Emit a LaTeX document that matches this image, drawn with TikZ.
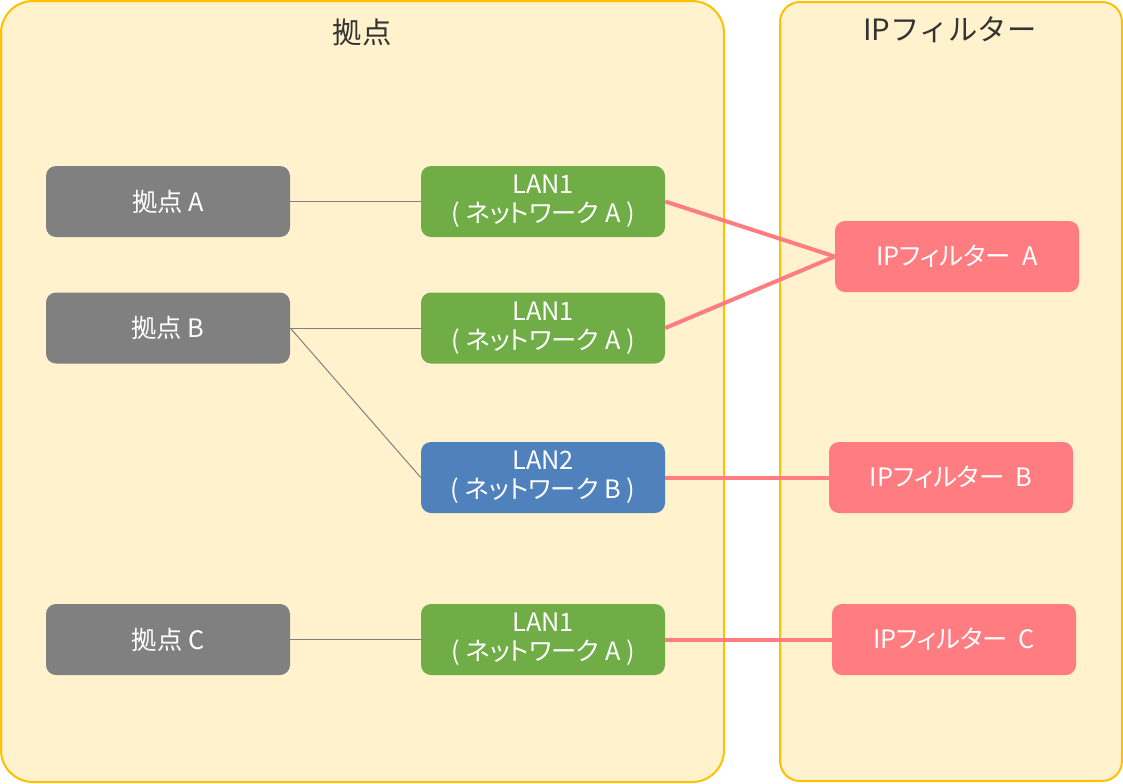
\documentclass[tikz,border=0pt]{standalone}
\usepackage{fontspec}
\newfontfamily\jp{Noto Sans CJK JP}
\newfontfamily\jpp[RawFeature=+palt]{Noto Sans CJK JP}
\definecolor{cyellow}{HTML}{FFC000}
\definecolor{cfill}{HTML}{FFF2CC}
\definecolor{cgray}{HTML}{808080}
\definecolor{cgreen}{HTML}{70AD47}
\definecolor{cblue}{HTML}{4F81BD}
\definecolor{cpink}{HTML}{FF7C80}
\definecolor{ctitle}{HTML}{333333}
\begin{document}
\begin{tikzpicture}[x=0.75pt,y=-0.75pt,
  container/.style={draw=cyellow, line width=1.5pt, fill=cfill},
  title/.style={text=ctitle, font=\jp\fontsize{22}{26}\selectfont, inner sep=0pt},
  box/.style={rounded corners=7.5pt, minimum width=183pt, minimum height=53.25pt, inner sep=0pt,
    text=white, align=center, font=\jpp\fontsize{19}{21.5}\selectfont},
  sitebox/.style={box, fill=cgray},
  lanA/.style={box, fill=cgreen},
  lanB/.style={box, fill=cblue},
  filterbox/.style={box, fill=cpink},
  thinlink/.style={draw=cgray, line width=0.75pt},
  pinklink/.style={draw=cpink, line width=3pt}
]
\useasboundingbox (0,0) rectangle (1123,783);
\fill[white] (0,0) rectangle (1123,783);
% containers
\draw[container, rounded corners=24pt] (1,1) rectangle (724,782);
\draw[container, rounded corners=15pt] (780,2) rectangle (1122,781);
\node[title] (t1) at (362,32) {拠点};
\node[title] (t2) at (950,30) {IPフィルター};
% site nodes
\node[sitebox] (siteA) at (168,201.5) {拠点 A};
\node[sitebox] (siteB) at (168,328) {拠点 B};
\node[sitebox] (siteC) at (168,639.5) {拠点 C};
% LAN nodes
\node[lanA] (lan1a) at (543,201.5) {LAN1\\( ネットワーク A )};
\node[lanA] (lan1b) at (543,328) {LAN1\\( ネットワーク A )};
\node[lanB] (lan2) at (543,477.5) {LAN2\\( ネットワーク B )};
\node[lanA] (lan1c) at (543,639.5) {LAN1\\( ネットワーク A )};
% filter nodes
\node[filterbox] (fA) at (957,256.5) {IPフィルター\hspace{0.45em}A};
\node[filterbox] (fB) at (951,477.5) {IPフィルター\hspace{0.45em}B};
\node[filterbox] (fC) at (954,639.5) {IPフィルター\hspace{0.45em}C};
% connectors
\draw[thinlink] (siteA.east) -- (lan1a.west);
\draw[thinlink] (siteB.east) -- (lan1b.west);
\draw[thinlink] (siteB.east) -- (lan2.west);
\draw[thinlink] (siteC.east) -- (lan1c.west);
\draw[pinklink] (lan1a.east) -- (fA.west);
\draw[pinklink] (lan1b.east) -- (fA.west);
\draw[pinklink] (lan2.east) -- (fB.west);
\draw[pinklink] (lan1c.east) -- (fC.west);
\end{tikzpicture}
\end{document}
